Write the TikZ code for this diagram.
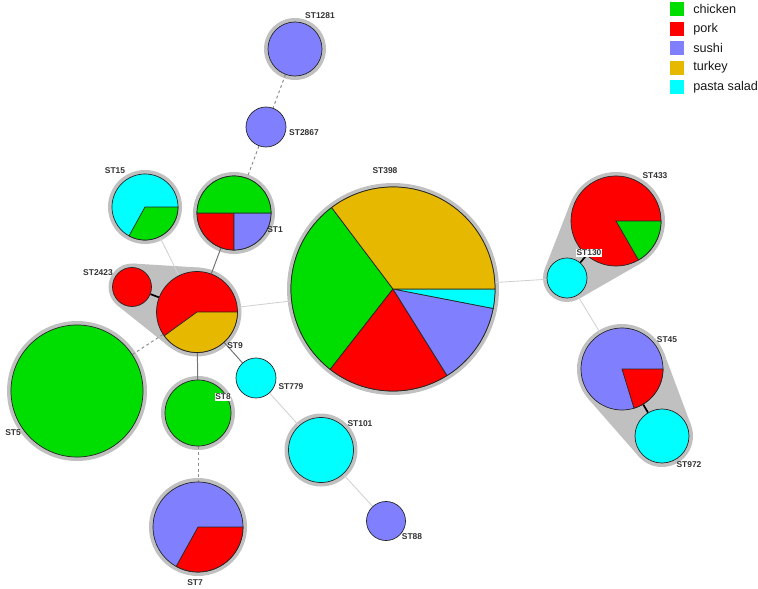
\documentclass[tikz,border=0pt]{standalone}
\usepackage{fontspec}
\setmainfont{Liberation Sans}
\usetikzlibrary{calc,backgrounds}

\definecolor{chicken}{HTML}{00DD00}
\definecolor{pork}{HTML}{FF0000}
\definecolor{sushi}{HTML}{8080FF}
\definecolor{turkey}{HTML}{E6B800}
\definecolor{pasta}{HTML}{00FFFF}
\definecolor{halogrey}{HTML}{C0C0C0}

% pie slice: node, radius (px), start angle, end angle, colour
\newcommand{\stslice}[5]{%
  \filldraw[fill=#5, draw=black!85, line width=0.5pt] (#1.center) -- ++(#3:#2)
    arc[start angle=#3, end angle=#4, radius=#2] -- cycle;}
% grey hull round two nodes: node, radius, node, radius
\newcommand{\sthull}[4]{%
  \fill[halo] (#1) circle[radius=#2] (#3) circle[radius=#4];
  \fill[halo] let \p1=(#1), \p2=(#3), \n1={atan2(\y2-\y1,\x2-\x1)},
    \n2={acos((#2-#4)*0.7113/veclen(\x2-\x1,\y2-\y1))} in
    ($(\p1)+(\n1+\n2:#2)$) -- ($(\p2)+(\n1+\n2:#4)$) --
    ($(\p2)+(\n1-\n2:#4)$) -- ($(\p1)+(\n1-\n2:#2)$) -- cycle;}

\begin{document}
\begin{tikzpicture}[x=0.025cm, y=0.025cm,
    st/.style={circle, draw=black!85, line width=0.5pt, inner sep=0pt, minimum size=#1*0.05cm},
    halo/.style={fill=halogrey},
    weak/.style={draw=black!18, line width=0.6pt},
    mid/.style={draw=black!55, line width=0.7pt},
    dashedge/.style={draw=black!45, line width=0.7pt, dash pattern=on 2pt off 2pt},
    strong/.style={draw=black, line width=1.2pt},
    lbl/.style={font=\bfseries\fontsize{6}{7}\selectfont, text=black!80, inner sep=0.5pt},
    key/.style={minimum size=0.35cm, inner sep=0pt},
    keytext/.style={font=\fontsize{9}{11}\selectfont, anchor=west, inner sep=0pt, text=black!90}
  ]
  \useasboundingbox (0,0) rectangle (758,588);

  \node[st=27, fill=sushi] (st1281) at (295,539) {};
  \node[st=20, fill=sushi] (st2867) at (266,461) {};
  \node[st=33, fill=pasta] (st15) at (145,381) {};
  \node[st=37, fill=chicken] (st1) at (234,375) {};
  \node[st=19.5, fill=pork] (st2423) at (132,301) {};
  \node[st=40.5, fill=pork] (st9) at (197,276) {};
  \node[st=102, fill=turkey] (st398) at (393,299) {};
  \node[st=45, fill=pork] (st433) at (616,367) {};
  \node[st=20, fill=pasta] (st130) at (567,310) {};
  \node[st=41, fill=sushi] (st45) at (622,219) {};
  \node[st=27, fill=pasta] (st972) at (662,152) {};
  \node[st=66, fill=chicken] (st5) at (77,197) {};
  \node[st=33, fill=chicken] (st8) at (198,175) {};
  \node[st=20, fill=pasta] (st779) at (256,210) {};
  \node[st=32.5, fill=pasta] (st101) at (321,138) {};
  \node[st=19.5, fill=sushi] (st88) at (386,67) {};
  \node[st=45, fill=sushi] (st7) at (198,61) {};

  \begin{scope}[on background layer]
    \sthull{st2423}{23.5}{st9}{44.5}
    \sthull{st130}{24}{st433}{49}
    \sthull{st45}{45}{st972}{31}
    \fill[halo] (st1281) circle[radius=31];
    \fill[halo] (st15) circle[radius=37];
    \fill[halo] (st1) circle[radius=41];
    \fill[halo] (st398) circle[radius=106];
    \fill[halo] (st5) circle[radius=70];
    \fill[halo] (st8) circle[radius=37];
    \fill[halo] (st101) circle[radius=36.5];
    \fill[halo] (st7) circle[radius=49];

    \draw[dashedge] (st1281) -- (st2867);
    \draw[dashedge] (st2867) -- (st1);
    \draw[dashedge] (st9) -- (st5);
    \draw[dashedge] (st8) -- (st7);
    \draw[mid] (st1) -- (st9);
    \draw[mid] (st9) -- (st8);
    \draw[mid] (st9) -- (st779);
    \draw[weak] (st15) -- (st9);
    \draw[weak] (st9) -- (st398);
    \draw[weak] (st398) -- (st130);
    \draw[weak] (st130) -- (st45);
    \draw[weak] (st779) -- (st101);
    \draw[weak] (st101) -- (st88);
    \draw[strong] (st2423) -- (st9);
    \draw[strong] (st130) -- (st433);
    \draw[strong] (st45) -- (st972);
  \end{scope}

  % pies
  \stslice{st398}{102}{127}{232}{chicken}
  \stslice{st398}{102}{232}{302}{pork}
  \stslice{st398}{102}{302}{349}{sushi}
  \stslice{st398}{102}{349}{360}{pasta}
  \stslice{st398}{102}{0}{127}{turkey}
  \stslice{st433}{45}{-60}{0}{chicken}
  \stslice{st45}{41}{-73}{0}{pork}
  \stslice{st7}{45}{-119}{0}{pork}
  \stslice{st9}{40.5}{216}{360}{turkey}
  \stslice{st15}{33}{241}{360}{chicken}
  \stslice{st1}{37}{180}{270}{pork}
  \stslice{st1}{37}{270}{360}{sushi}
  \stslice{st1}{37}{0}{180}{chicken}

  % labels
  \node[lbl] (l1281) at (320,572) {ST1281};
  \node[lbl] (l2867) at (304,455) {ST2867};
  \node[lbl] (l15) at (115,417) {ST15};
  \node[lbl] (l1) at (275,358) {ST1};
  \node[lbl] (l398) at (385,417) {ST398};
  \node[lbl] (l433) at (655,412) {ST433};
  \node[lbl, fill=white] (l130) at (589,335) {ST130};
  \node[lbl] (l45) at (667,248) {ST45};
  \node[lbl] (l972) at (689,123) {ST972};
  \node[lbl] (l88) at (412,51) {ST88};
  \node[lbl] (l101) at (360,164) {ST101};
  \node[lbl] (l779) at (291,201) {ST779};
  \node[lbl, fill=white] (l8) at (223,191) {ST8};
  \node[lbl] (l9) at (235,242) {ST9};
  \node[lbl] (l5) at (13,155) {ST5};
  \node[lbl] (l7) at (195,5) {ST7};
  \node[lbl] (l2423) at (98,315) {ST2423};

  % legend
  \foreach \c/\t [count=\i] in {chicken/chicken, pork/pork, sushi/sushi, turkey/turkey, pasta/pasta salad} {
    \node[key, fill=\c] (key\i) at (677,598-19.4*\i) {};
    \node[keytext] (keytext\i) at (693,598-19.4*\i) {\t};
  }
\end{tikzpicture}
\end{document}
